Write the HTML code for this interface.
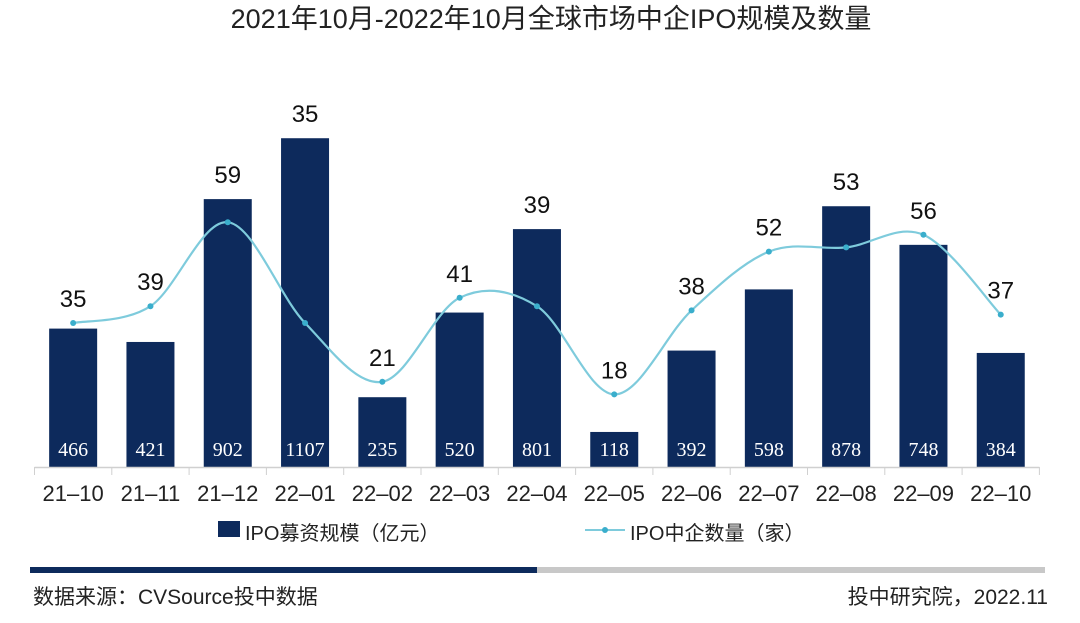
<!DOCTYPE html>
<html><head><meta charset="utf-8"><style>
body{margin:0;background:#fff;}
svg text{font-family:"Liberation Sans","Noto Sans CJK SC",sans-serif;}
</style></head><body>
<svg width="1080" height="618" viewBox="0 0 1080 618" xmlns="http://www.w3.org/2000/svg">
<text x="551" y="28" text-anchor="middle" font-size="27" fill="#222">2021年10月-2022年10月全球市场中企IPO规模及数量</text>
<g id="bars"></g>
<g id="axis"></g>
<g id="line"></g>
<g>
<rect x="218" y="521" width="22" height="16" fill="#0d2a5c"/>
<text x="245" y="540" font-size="20" fill="#222">IPO募资规模（亿元）</text>
<line x1="585" y1="530" x2="625" y2="530" stroke="#7ecbdc" stroke-width="2"/>
<circle cx="605" cy="530" r="3" fill="#3aaecc"/>
<text x="630" y="540" font-size="20" fill="#222">IPO中企数量（家）</text>
</g>
<rect x="30" y="567" width="507" height="6" fill="#0d2a5c"/>
<rect x="537" y="567" width="508" height="6" fill="#c8c8c8"/>
<text x="33" y="604" font-size="21" fill="#222">数据来源：CVSource投中数据</text>
<text x="1048" y="604" font-size="21" fill="#222" text-anchor="end">投中研究院，2022.11</text>
</svg>
<script>
const categories=["21-10","21-11","21-12","22-01","22-02","22-03","22-04","22-05","22-06","22-07","22-08","22-09","22-10"];
const amounts=[466,421,902,1107,235,520,801,118,392,598,878,748,384];
const counts=[35,39,59,35,21,41,39,18,38,52,53,56,37];
const NS="http://www.w3.org/2000/svg";
const base=467,x0=34.5,step=77.3,bw=48;
const xc=i=>x0+step*(i+0.5);
const yAmt=v=>base-v*0.297;
const yCnt=v=>470-v*4.2;
function mk(t,a,p){const e=document.createElementNS(NS,t);for(const k in a)e.setAttribute(k,a[k]);p.appendChild(e);return e;}
const gb=document.getElementById('bars'),ga=document.getElementById('axis'),gl=document.getElementById('line');
const al=mk('line',{x1:x0,y1:base+0.5,x2:x0+step*categories.length,y2:base+0.5,stroke:'#d0d0d0','stroke-width':1.5},ga);


for(let i=0;i<=categories.length;i++){const t=mk('line',{x1:x0+step*i,y1:base,x2:x0+step*i,y2:base+8,stroke:'#d0d0d0'},ga);

}
categories.forEach((c,i)=>{
 const y=yAmt(amounts[i]);
 const r=mk('rect',{x:xc(i)-bw/2,y:y,width:bw,height:base-y,fill:'#0d2a5c'},gb);
 
 
 const t=mk('text',{x:xc(i),y:456,'text-anchor':'middle','font-size':20,fill:'#fff',style:'font-family:"Liberation Serif",serif'},gb);t.textContent=amounts[i];
 
 
 const l=mk('text',{x:xc(i),y:501,'text-anchor':'middle','font-size':22,fill:'#222'},ga);l.textContent=c.replace('-','–');
 
 
});
const pts=counts.map((v,i)=>[xc(i),yCnt(v)]);
let d='M'+pts[0][0]+','+pts[0][1];
for(let i=0;i<pts.length-1;i++){const p0=pts[Math.max(0,i-1)],p1=pts[i],p2=pts[i+1],p3=pts[Math.min(pts.length-1,i+2)];
 d+=' C'+(p1[0]+(p2[0]-p0[0])/6)+','+(p1[1]+(p2[1]-p0[1])/6)+' '+(p2[0]-(p3[0]-p1[0])/6)+','+(p2[1]-(p3[1]-p1[1])/6)+' '+p2[0]+','+p2[1];}
const path=mk('path',{d:d,fill:'none',stroke:'#7ecbdc','stroke-width':2.2},gl);


pts.forEach((p,i)=>{
 const c=mk('circle',{cx:p[0],cy:p[1],r:3,fill:'#3aaecc'},gl);
 
 
 const top=Math.min(p[1],yAmt(amounts[i]));
 const t=mk('text',{x:p[0],y:top-16,'text-anchor':'middle','font-size':24,fill:'#111'},gl);t.textContent=counts[i];
 
 
});
</script>
</body></html>
